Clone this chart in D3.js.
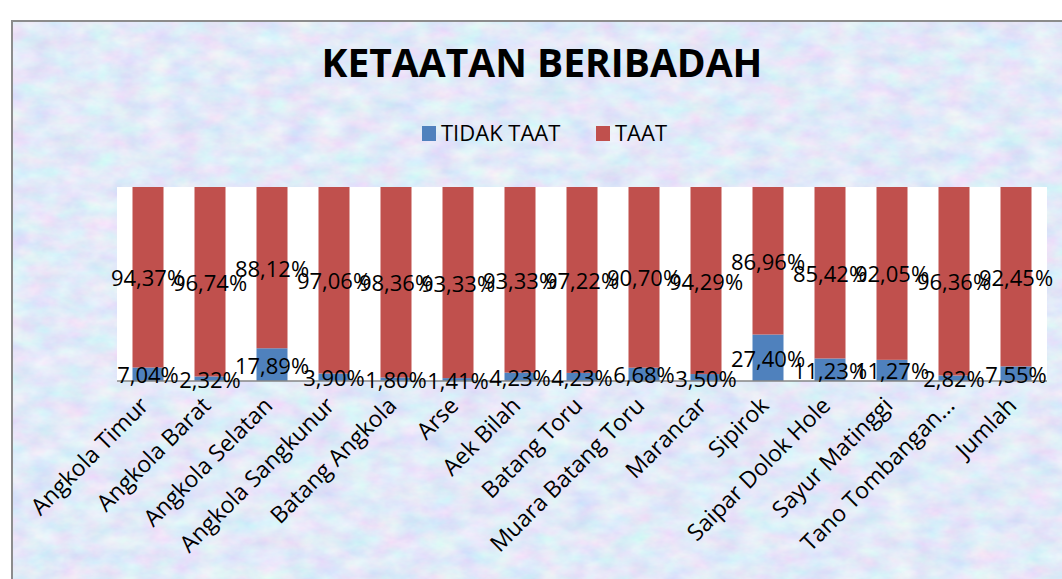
<!DOCTYPE html>
<html>
<head>
<meta charset="utf-8">
<script src="https://cdn.jsdelivr.net/npm/d3@7"></script>
<style>
  html, body { margin: 0; padding: 0; background: #fff; }
  svg { display: block; font-family: "Open Sans", sans-serif; }
</style>
</head>
<body>
<div id="chart"></div>
<script>
// --- data ---
const categories = [
  "Angkola Timur", "Angkola Barat", "Angkola Selatan", "Angkola Sangkunur",
  "Batang Angkola", "Arse", "Aek Bilah", "Batang Toru", "Muara Batang Toru",
  "Marancar", "Sipirok", "Saipar Dolok Hole", "Sayur Matinggi",
  "Tano Tombangan...", "Jumlah"
];
const tidakTaat = [7.04, 2.32, 17.89, 3.90, 1.80, 1.41, 4.23, 4.23, 6.68, 3.50, 27.40, 11.23, 11.27, 2.82, 7.55];
const taat      = [94.37, 96.74, 88.12, 97.06, 98.36, 93.33, 93.33, 97.22, 90.70, 94.29, 86.96, 85.42, 92.05, 96.36, 92.45];
const seriesNames = ["TIDAK TAAT", "TAAT"];
const seriesColors = ["#4f81bd", "#c0504d"];

const width = 1062, height = 579;
const plot = { left: 117, right: 1047, top: 187, bottom: 381 };

const svg = d3.select("#chart").append("svg")
  .attr("width", width)
  .attr("height", height);

// textured background
const defs = svg.append("defs");
const filt = defs.append("filter").attr("id", "tex")
  .attr("x", 0).attr("y", 0).attr("width", "100%").attr("height", "100%");
filt.append("feTurbulence")
  .attr("type", "fractalNoise")
  .attr("baseFrequency", "0.035 0.06")
  .attr("numOctaves", 4)
  .attr("seed", 7);
filt.append("feColorMatrix")
  .attr("type", "matrix")
  .attr("values", "0.4 0 0 0 0.56  0 0.34 0 0 0.65  0 0 0.1 0 0.89  0 0 0 0 1");

svg.append("rect")
  .attr("x", 12).attr("y", 21)
  .attr("width", width).attr("height", height)
  .attr("filter", "url(#tex)");
svg.append("rect")
  .attr("x", 12).attr("y", 21)
  .attr("width", width).attr("height", height)
  .attr("fill", "none")
  .attr("stroke", "#8c8c8c")
  .attr("stroke-width", 2);

// title
svg.append("text")
  .attr("x", 542).attr("y", 77)
  .attr("text-anchor", "middle")
  .attr("font-size", 39)
  .attr("font-weight", 700)
  .attr("fill", "#000")
  .text("KETAATAN BERIBADAH");

// legend
const legend = svg.append("g").attr("transform", "translate(422,126)");
const legendX = [0, 174];
seriesNames.forEach((name, i) => {
  const g = legend.append("g").attr("transform", `translate(${legendX[i]},0)`);
  g.append("rect").attr("width", 14).attr("height", 15).attr("fill", seriesColors[i]);
  g.append("text")
    .attr("x", 19).attr("y", 15)
    .attr("font-size", 22)
    .attr("fill", "#000")
    .text(name);
});

// plot area
svg.append("rect")
  .attr("x", plot.left).attr("y", plot.top)
  .attr("width", plot.right - plot.left)
  .attr("height", plot.bottom - plot.top)
  .attr("fill", "#fff");

const rows = categories.map((c, i) => ({ cat: c, tidak: tidakTaat[i], taat: taat[i] }));

const x = d3.scaleBand()
  .domain(categories)
  .range([plot.left, plot.right])
  .paddingInner(0.5)
  .paddingOuter(0.25);

const y = d3.scaleLinear()
  .domain([0, 1])
  .range([plot.bottom, plot.top]);

// 100% stacked
const stack = d3.stack()
  .keys(["tidak", "taat"])
  .offset(d3.stackOffsetExpand);
const layers = stack(rows);

const layerG = svg.selectAll("g.layer")
  .data(layers)
  .enter().append("g")
  .attr("class", "layer")
  .attr("fill", (d, i) => seriesColors[i]);

layerG.selectAll("rect")
  .data(d => d)
  .enter().append("rect")
  .attr("x", d => x(d.data.cat))
  .attr("width", x.bandwidth())
  .attr("y", d => y(d[1]))
  .attr("height", d => y(d[0]) - y(d[1]));

// axis line
svg.append("line")
  .attr("x1", plot.left).attr("x2", plot.right)
  .attr("y1", plot.bottom).attr("y2", plot.bottom)
  .attr("stroke", "#868686")
  .attr("stroke-width", 1.5);

// data labels
const fmt = v => d3.format(".2f")(v).replace(".", ",") + "%";
layers.forEach(layer => {
  svg.append("g").selectAll("text")
    .data(layer)
    .enter().append("text")
    .attr("x", d => x(d.data.cat) + x.bandwidth() / 2)
    .attr("y", d => (y(d[0]) + y(d[1])) / 2)
    .attr("text-anchor", "middle")
    .attr("dominant-baseline", "central")
    .attr("font-size", 22)
    .attr("fill", "#000")
    .text(d => fmt(d.data[layer.key]));
});

// category labels
const xAxis = d3.axisBottom(x).tickSize(0).tickPadding(0);
const axisG = svg.append("g")
  .attr("transform", `translate(0,${plot.bottom})`)
  .call(xAxis);
axisG.select(".domain").remove();
axisG.selectAll("text")
  .attr("font-family", "Open Sans, sans-serif")
  .attr("font-size", 23)
  .attr("fill", "#000")
  .attr("text-anchor", "end")
  .attr("dy", null)
  .attr("y", 0)
  .attr("transform", "translate(2,26) rotate(-45)");
</script>
</body>
</html>
